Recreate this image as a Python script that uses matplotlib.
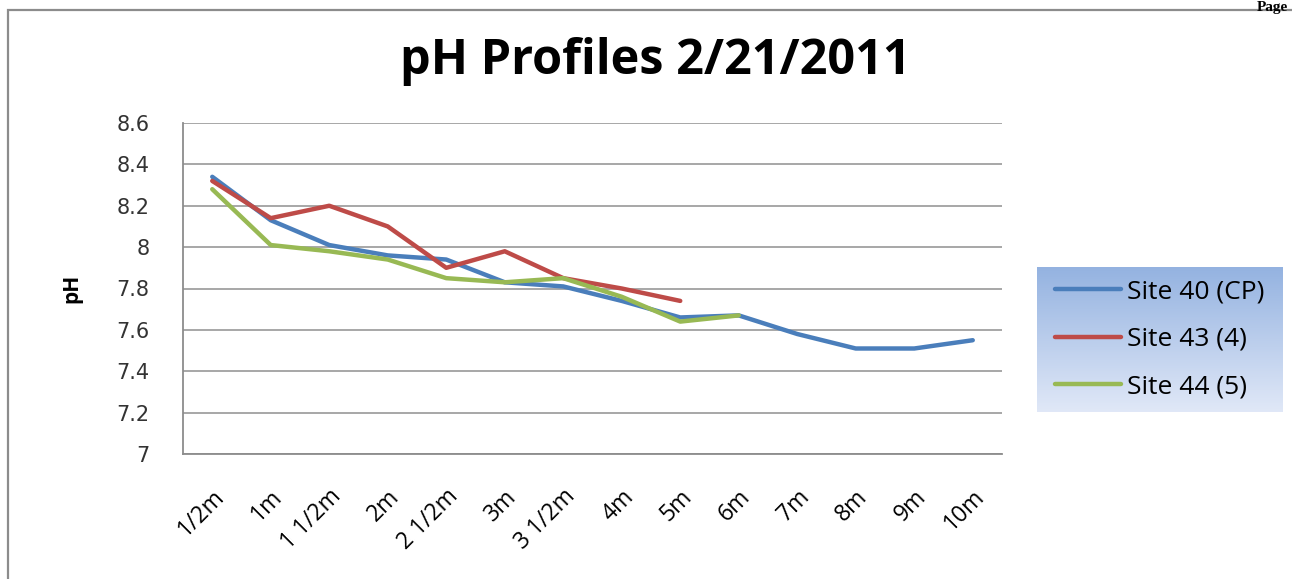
import matplotlib.pyplot as plt
import numpy as np
from matplotlib.patches import Rectangle
from matplotlib.transforms import ScaledTranslation

depths = ["1/2m", "1m", "1 1/2m", "2m", "2 1/2m", "3m", "3 1/2m",
          "4m", "5m", "6m", "7m", "8m", "9m", "10m"]
site40 = [8.34, 8.13, 8.01, 7.96, 7.94, 7.83, 7.81, 7.74, 7.66, 7.67, 7.58, 7.51, 7.51, 7.55]
site43 = [8.32, 8.14, 8.20, 8.10, 7.90, 7.98, 7.85, 7.80, 7.74]
site44 = [8.28, 8.01, 7.98, 7.94, 7.85, 7.83, 7.85, 7.76, 7.64, 7.67]
yticks = [7.0, 7.2, 7.4, 7.6, 7.8, 8.0, 8.2, 8.4, 8.6]
ytick_labels = ["7", "7.2", "7.4", "7.6", "7.8", "8", "8.2", "8.4", "8.6"]

SERIES = [
    ("Site 40 (CP)", site40, "#4A7EBB"),
    ("Site 43 (4)", site43, "#BE4B48"),
    ("Site 44 (5)", site44, "#98B954"),
]

plt.rcParams["font.family"] = ["Open Sans", "DejaVu Sans"]

W, H = 1292, 579
fig = plt.figure(figsize=(W / 100, H / 100), dpi=100)

# chart border and page rule
fig.add_artist(Rectangle((8 / W, -0.01), 1.1, 1 - 10 / H + 0.01, transform=fig.transFigure,
                         fill=False, edgecolor="#8c8c8c", linewidth=1.6))
fig.text(1288 / W, 1 - 1 / H, "Page", fontsize=11, fontweight="bold",
         family="Liberation Serif", va="top", ha="right")

ax = fig.add_axes([183 / W, 1 - 454 / H, (1002 - 183) / W, (454 - 123) / H])
x = np.arange(len(depths))
for label, vals, color in SERIES:
    ax.plot(x[:len(vals)], vals, color=color, linewidth=3.2, label=label,
            solid_joinstyle="round", solid_capstyle="round", zorder=3)

ax.set_xlim(-0.5, len(depths) - 0.5)
ax.set_ylim(7.0, 8.6)
ax.set_yticks(yticks)
ax.set_yticklabels(ytick_labels, fontsize=15, family="DejaVu Sans", color="#333333")
ax.set_xticks(x)
ax.set_xticklabels(depths, rotation=45, ha="right", rotation_mode="anchor", fontsize=16.5)
offset = ScaledTranslation(20 / 100, 0, fig.dpi_scale_trans)
for lbl in ax.get_xticklabels():
    lbl.set_transform(lbl.get_transform() + offset)
ax.tick_params(axis="x", length=0, pad=22)
ax.tick_params(axis="y", length=0, pad=24)
ax.grid(True, axis="y", color="#a0a0a0", linewidth=1.3)
ax.set_axisbelow(True)
for side in ["top", "right"]:
    ax.spines[side].set_visible(False)
for side in ["left", "bottom"]:
    ax.spines[side].set_color("#8c8c8c")
    ax.spines[side].set_linewidth(1.3)

fig.text(72 / W, 1 - 288 / H, "pH", fontsize=15, fontweight="bold",
         rotation=90, ha="center", va="center")
fig.text(655 / W, 1 - 62 / H, "pH Profiles 2/21/2011", fontsize=35, fontweight="bold",
         ha="center", va="center")

# legend box with vertical gradient
lax = fig.add_axes([1037 / W, 1 - 412 / H, (1283 - 1037) / W, (412 - 267) / H])
grad = np.linspace(0, 1, 256).reshape(-1, 1)
top = np.array([0.58, 0.70, 0.88])
bottom = np.array([0.88, 0.91, 0.97])
img = top + grad[..., None] * (bottom - top)
lax.imshow(img, aspect="auto", extent=(0, 1, 0, 1), origin="upper")
lax.set_xlim(0, 1)
lax.set_ylim(0, 1)
lax.axis("off")
handles, labels = ax.get_legend_handles_labels()
lax.legend(handles, labels, loc="center left", bbox_to_anchor=(0.0, 0.5), frameon=False,
           fontsize=19, handlelength=2.5, handletextpad=0.2, labelspacing=0.85,
           borderaxespad=0.3)

fig.savefig("out.png", dpi=100)
